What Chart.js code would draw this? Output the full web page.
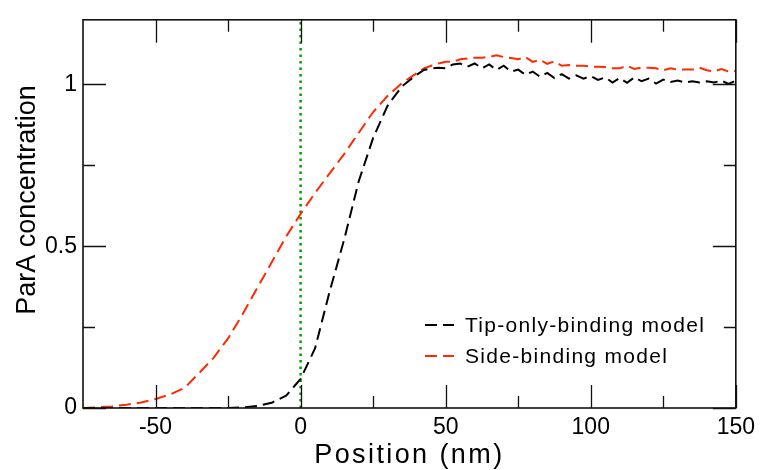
<!DOCTYPE html>
<html>
<head>
<meta charset="utf-8">
<script src="https://cdn.jsdelivr.net/npm/chart.js@4"></script>
<style>
  html, body { margin: 0; padding: 0; background: #fff; }
</style>
</head>
<body>
<canvas id="parAChart" width="761" height="470"></canvas>
<script>
// Position along the filament (nm)
const positions = [
  -75, -70, -65, -60, -55, -50, -45, -40, -35, -30, -25, -20, -15, -10, -5, 0,
  5, 10, 15, 20, 25, 30, 35, 40,
  42.5, 45, 47.5, 50, 52.5, 55, 57.5, 60, 62.5, 65, 67.5, 70, 72.5, 75, 77.5, 80,
  82.5, 85, 87.5, 90, 92.5, 95, 97.5, 100, 102.5, 105, 107.5, 110, 112.5, 115,
  117.5, 120, 122.5, 125, 127.5, 130, 132.5, 135, 137.5, 140, 142.5, 145, 147.5, 150
];
const tipOnly = [
  0, 0, 0, 0, 0, 0, 0, 0, 0, 0, 0, 0.002, 0.006, 0.016, 0.038, 0.09,
  0.185, 0.36, 0.52, 0.70, 0.835, 0.935, 0.995, 1.03,
  1.045, 1.05, 1.052, 1.05, 1.062, 1.065, 1.055, 1.065, 1.05, 1.062, 1.045, 1.058, 1.04, 1.046, 1.03, 1.04,
  1.024, 1.036, 1.02, 1.032, 1.018, 1.028, 1.018, 1.026, 1.014, 1.022, 1.006, 1.02, 1.005, 1.022,
  1.01, 1.018, 1.003, 1.015, 1.008, 1.012, 1.006, 1.01, 1.006, 1.01, 1.006, 1.012, 1.002, 1.012
];
const sideBinding = [
  0, 0.002, 0.005, 0.01, 0.017, 0.028, 0.042, 0.062, 0.108, 0.155, 0.215, 0.29, 0.37, 0.45, 0.53, 0.6,
  0.665, 0.725, 0.785, 0.85, 0.915, 0.965, 1.005, 1.035,
  1.05, 1.058, 1.065, 1.07, 1.07, 1.078, 1.08, 1.083, 1.083, 1.085, 1.09, 1.085, 1.082, 1.078, 1.085, 1.07,
  1.076, 1.064, 1.072, 1.058, 1.06, 1.058, 1.058, 1.055, 1.055, 1.054, 1.05, 1.05, 1.058, 1.048,
  1.052, 1.052, 1.05, 1.044, 1.05, 1.046, 1.046, 1.046, 1.052, 1.044, 1.04, 1.048, 1.04, 1.042
];
const markerX = [0, 0];
const markerY = [0, 1.2];

const xTicks = [-50, 0, 50, 100, 150];
const xMinor = [-25, 25, 75, 125];
const yTicks = [0, 0.5, 1];
const yMinor = [0.25, 0.75];

const FONT = "'Liberation Sans', Arial, sans-serif";

function toPoints(xs, ys) {
  return xs.map((x, i) => ({ x: x, y: ys[i] }));
}

// frame, inside ticks, axis titles and legend
const decorations = {
  id: 'decorations',
  afterDraw(chart) {
    const ctx = chart.ctx;
    const a = chart.chartArea;
    const xs = chart.scales.x, ys = chart.scales.y;
    ctx.save();
    ctx.strokeStyle = '#111';
    ctx.lineWidth = 1.6;
    ctx.setLineDash([]);
    ctx.strokeRect(a.left, a.top, a.right - a.left, a.bottom - a.top);

    ctx.beginPath();
    ctx.lineWidth = 1.3;
    const xMarks = xTicks.map(v => [v, 23]).concat(xMinor.map(v => [v, 12]));
    xMarks.forEach(([v, len]) => {
      const px = Math.round(xs.getPixelForValue(v)) + 0.5;
      ctx.moveTo(px, a.bottom); ctx.lineTo(px, a.bottom - len);
      ctx.moveTo(px, a.top); ctx.lineTo(px, a.top + len);
    });
    const yMarks = yTicks.map(v => [v, 23]).concat(yMinor.map(v => [v, 12]));
    yMarks.forEach(([v, len]) => {
      const py = Math.round(ys.getPixelForValue(v)) + 0.5;
      ctx.moveTo(a.left, py); ctx.lineTo(a.left + len, py);
      ctx.moveTo(a.right, py); ctx.lineTo(a.right - len, py);
    });
    ctx.stroke();

    // axis titles
    ctx.fillStyle = '#000';
    ctx.font = '27px ' + FONT;
    ctx.textAlign = 'center';
    ctx.textBaseline = 'alphabetic';
    ctx.letterSpacing = '2.4px';
    ctx.fillText('Position (nm)', (a.left + a.right) / 2, 463);
    ctx.letterSpacing = '0px';
    ctx.save();
    ctx.translate(35, 200);
    ctx.rotate(-Math.PI / 2);
    ctx.fillText('ParA concentration', 0, 0);
    ctx.restore();

    // legend
    ctx.font = '21px ' + FONT;
    ctx.textAlign = 'left';
    ctx.letterSpacing = '1.3px';
    const rows = [[chart.data.datasets[0], 325, 332], [chart.data.datasets[1], 356, 363]];
    rows.forEach(([ds, ly, ty]) => {
      ctx.strokeStyle = ds.borderColor;
      ctx.lineWidth = 2;
      ctx.setLineDash([12, 6]);
      ctx.beginPath();
      ctx.moveTo(425, ly); ctx.lineTo(454, ly);
      ctx.stroke();
      ctx.fillText(ds.label, 465, ty);
    });
    ctx.restore();
  }
};

new Chart(document.getElementById('parAChart'), {
  type: 'line',
  data: {
    datasets: [
      {
        label: 'Tip-only-binding model',
        data: toPoints(positions, tipOnly),
        borderColor: '#000',
        borderWidth: 2,
        borderDash: [12, 6],
        pointRadius: 0,
        fill: false
      },
      {
        label: 'Side-binding model',
        data: toPoints(positions, sideBinding),
        borderColor: '#ff2a00',
        borderWidth: 2,
        borderDash: [12, 6],
        pointRadius: 0,
        fill: false
      },
      {
        label: 'x = 0',
        data: toPoints(markerX, markerY),
        borderColor: '#00a000',
        borderWidth: 2.5,
        borderDash: [2.5, 4],
        pointRadius: 0,
        fill: false
      }
    ]
  },
  options: {
    responsive: false,
    animation: false,
    layout: { padding: { top: 15, right: 22, left: 0, bottom: 0 } },
    plugins: {
      legend: { display: false },
      tooltip: { enabled: false }
    },
    scales: {
      x: {
        type: 'linear',
        min: -75,
        max: 150,
        grid: { display: false, drawTicks: false },
        border: { display: false },
        ticks: { color: '#000', padding: 6, font: { family: FONT, size: 23 }, callback: v => String(v) },
        afterBuildTicks: s => { s.ticks = xTicks.map(v => ({ value: v })); },
        afterFit: s => { s.height = 62; }
      },
      y: {
        type: 'linear',
        min: 0,
        max: 1.2,
        grid: { display: false, drawTicks: false },
        border: { display: false },
        ticks: { color: '#000', padding: 6, font: { family: FONT, size: 23 }, callback: v => String(v) },
        afterBuildTicks: s => { s.ticks = yTicks.map(v => ({ value: v })); },
        afterFit: s => { s.width = 83; }
      }
    }
  },
  plugins: [decorations]
});
</script>
</body>
</html>
